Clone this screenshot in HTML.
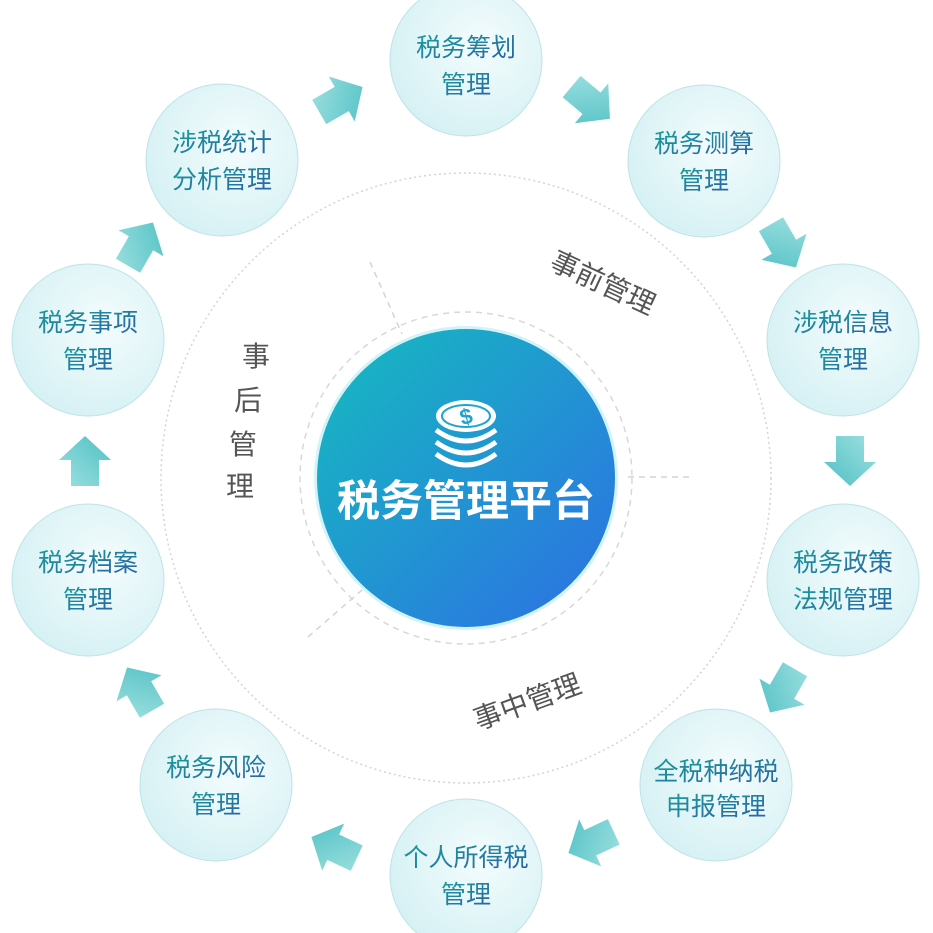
<!DOCTYPE html>
<html><head><meta charset="utf-8"><style>
html,body{margin:0;padding:0;background:#fff;}
svg{display:block;font-family:"Liberation Sans","Noto Sans CJK SC",sans-serif;}
</style></head><body>
<svg width="933" height="933" viewBox="0 0 933 933" xmlns="http://www.w3.org/2000/svg">
<defs>
<radialGradient id="sat" cx="0.6" cy="0.4" r="0.7">
<stop offset="0" stop-color="#f4fcfd"/><stop offset="1" stop-color="#d3f0f3"/></radialGradient>
<linearGradient id="txt" x1="0" y1="0" x2="1" y2="1">
<stop offset="0" stop-color="#1a9e9a"/><stop offset="1" stop-color="#2a5fa8"/></linearGradient>
<linearGradient id="main" x1="0" y1="0" x2="1" y2="1">
<stop offset="0" stop-color="#15bcbf"/><stop offset="1" stop-color="#2d6fe4"/></linearGradient>
<linearGradient id="arr" x1="0" y1="0" x2="1" y2="1">
<stop offset="0" stop-color="#9fe0e0"/><stop offset="1" stop-color="#4fc0c4"/></linearGradient>
<polygon id="ap" points="-24,-14 2,-14 2,-26 26,0 2,26 2,14 -24,14"/>
</defs>
<circle cx="466" cy="478" r="305" fill="none" stroke="#d4d4d4" stroke-width="1.5" stroke-dasharray="2 3"/>
<circle cx="466" cy="478" r="166" fill="none" stroke="#d8d8d8" stroke-width="1.5" stroke-dasharray="6 5"/>
<g stroke="#d4d4d4" stroke-width="1.5" stroke-dasharray="6 5">
<line x1="370" y1="262" x2="402" y2="334"/>
<line x1="628" y1="477" x2="692" y2="477"/>
<line x1="308" y1="637" x2="362" y2="590"/>
</g>
<circle cx="466" cy="478" r="152" fill="#bff0f5" opacity="0.7"/>
<circle cx="466" cy="478" r="149" fill="url(#main)"/>
<g fill="none" stroke="#fff" stroke-width="5">
<ellipse cx="466" cy="416" rx="30" ry="16" fill="#fff" stroke="none"/>
<path d="M436 430 q30 22 60 0"/><path d="M436 442 q30 22 60 0"/><path d="M436 454 q30 22 60 0"/>
</g>
<ellipse cx="466" cy="416" rx="24" ry="11" fill="none" stroke="#1fa3cf" stroke-width="2"/>
<text x="466" y="424" font-size="22" font-weight="bold" fill="#1fa3cf" text-anchor="middle" transform="rotate(-15 466 416)">$</text>
<text x="466" y="516" font-size="43" font-weight="bold" fill="#fff" text-anchor="middle">税务管理平台</text>
<g font-size="28" fill="#555">
<text transform="translate(548,268) rotate(25)">事前管理</text>
<text transform="translate(478,730) rotate(-20)">事中管理</text>
<text x="256" y="366" text-anchor="middle">事</text>
<text x="248" y="410" text-anchor="middle">后</text>
<text x="243" y="454" text-anchor="middle">管</text>
<text x="240" y="496" text-anchor="middle">理</text>
</g>
<g stroke="#bfe2e6" stroke-width="1" fill="url(#sat)">
<circle cx="466" cy="60" r="76"/><circle cx="704" cy="161" r="76"/><circle cx="843" cy="340" r="76"/>
<circle cx="843" cy="580" r="76"/><circle cx="716" cy="785" r="76"/><circle cx="466" cy="875" r="76"/>
<circle cx="216" cy="785" r="76"/><circle cx="88" cy="580" r="76"/><circle cx="88" cy="340" r="76"/>
<circle cx="222" cy="160" r="76"/>
</g>
<g font-size="25" fill="url(#txt)" text-anchor="middle">
<text x="466" y="56">税务筹划</text><text x="466" y="93">管理</text>
<text x="704" y="152">税务测算</text><text x="704" y="189">管理</text>
<text x="843" y="331">涉税信息</text><text x="843" y="368">管理</text>
<text x="843" y="571">税务政策</text><text x="843" y="608">法规管理</text>
<text x="716" y="780">全税种纳税</text><text x="716" y="815">申报管理</text>
<text x="466" y="866">个人所得税</text><text x="466" y="903">管理</text>
<text x="216" y="776">税务风险</text><text x="216" y="813">管理</text>
<text x="88" y="571">税务档案</text><text x="88" y="608">管理</text>
<text x="88" y="331">税务事项</text><text x="88" y="368">管理</text>
<text x="222" y="151">涉税统计</text><text x="222" y="188">分析管理</text>
</g>
<g fill="url(#arr)">
<use href="#ap" transform="translate(340,100) rotate(-30)"/>
<use href="#ap" transform="translate(590,102) rotate(40)"/>
<use href="#ap" transform="translate(783,245) rotate(60)"/>
<use href="#ap" transform="translate(850,460) rotate(90)"/>
<use href="#ap" transform="translate(783,690) rotate(120)"/>
<use href="#ap" transform="translate(592,842) rotate(155)"/>
<use href="#ap" transform="translate(335,848) rotate(205)"/>
<use href="#ap" transform="translate(140,690) rotate(240)"/>
<use href="#ap" transform="translate(85,462) rotate(270)"/>
<use href="#ap" transform="translate(140,245) rotate(300)"/>
</g>
</svg>
</body></html>
